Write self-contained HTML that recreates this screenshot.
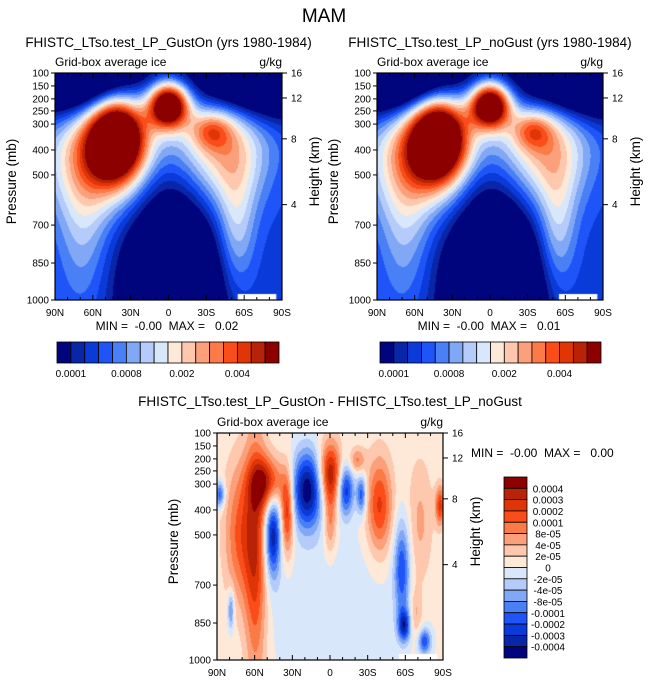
<!DOCTYPE html>
<html><head><meta charset="utf-8">
<style>
body{margin:0;background:#fff;font-family:"Liberation Sans",sans-serif;}
#wrap{position:relative;width:648px;height:685px;overflow:hidden;}
canvas{position:absolute;}
svg{position:absolute;left:0;top:0;}
text{font-family:"Liberation Sans",sans-serif;fill:#000;white-space:pre;}
</style></head>
<body>
<div id="wrap">
<canvas id="c1" width="227" height="227" style="left:55px;top:73px"></canvas>
<canvas id="c2" width="226" height="227" style="left:377px;top:73px"></canvas>
<canvas id="c3" width="226" height="227" style="left:217px;top:433px"></canvas>
<svg id="s" width="648" height="685"></svg>
</div>
<script>
const colors=['#00057e','#0a26a8','#0a3ad8','#1f55f8','#4a80f5','#80a8f5','#b5cbfa','#d8e8fa','#fee8d8','#fdc8ae','#fba07a','#fa7a48','#fa4d1a','#e03507','#b82206','#8c0000'];
const topLabels=['0.0001','0.0008','0.002','0.004'];
const topLabelIdx=[1,5,9,13];
const diffLabels=['0.0004','0.0003','0.0002','0.0001','8e-05','4e-05','2e-05','0','-2e-05','-4e-05','-8e-05','-0.0001','-0.0002','-0.0003','-0.0004'];
const presTicks=['100','150','200','250','300','400','500','700','850','1000'];
const presVals=[100,150,200,250,300,400,500,700,850,1000];
const heightTicks=['16','12','8','4'];
const heightVals=[16,12,8,4];
const latTicks=['90N','60N','30N','0','30S','60S','90S'];
const latVals=[90,60,30,0,-30,-60,-90];
// gaussian blobs for mean field (u: 0=90N..1=90S, v: 0=top..1=bottom)
const meanBase=2.5;
const meanU=[.27,.5,.69,.17,.75,.12,.8,.5,.08,.92,.52];
const meanV=[.29,.14,.25,.38,.36,.7,.7,.28,0,0,1.0];
const meanSU=[.085,.062,.065,.15,.13,.08,.06,.3,.2,.2,.14];
const meanSV=[.13,.07,.06,.18,.18,.25,.2,.12,.12,.12,.3];
const meanAmp=[18,18,5,7,6.5,3,4,2,-12,-12,-12];
// gaussian blobs for difference field
const diffBase=8.3;
const diffU=[.5,.1,.17,.245,.22,.31,.4,.01,.06,.5,.5,.57,.64,.62,.72,.82,.83,.92,.9,.88,.99];
const diffV=[.75,.45,.55,.45,.22,.35,.25,.27,.78,.18,.4,.25,.27,.12,.32,.6,.85,.92,.4,.8,.32];
const diffSU=[.25,.05,.035,.025,.05,.02,.05,.015,.01,.035,.02,.025,.015,.025,.04,.025,.02,.02,.04,.02,.015];
const diffSV=[.25,.22,.4,.13,.08,.13,.12,.04,.06,.1,.1,.08,.06,.04,.15,.15,.05,.04,.2,.08,.06];
const diffAmp=[-1,4,5,-7,6,6,-8,-5,-4,7,3,-6,-5,3,5,-5,-6,-5,2,2,5];

function field(u,v,base,U,V,SU,SV,A){let s=base;for(let i=0;i<U.length;i++){const du=(u-U[i])/SU[i],dv=(v-V[i])/SV[i];s+=A[i]*Math.exp(-.5*(du*du+dv*dv));}return s;}
function hex(c){return [parseInt(c.slice(1,3),16),parseInt(c.slice(3,5),16),parseInt(c.slice(5,7),16)];}
const rgb=colors.map(hex);
function paint(id,base,U,V,SU,SV,A,white){
 const cv=document.getElementById(id),ctx=cv.getContext('2d'),W=cv.width,H=cv.height;
 const img=ctx.createImageData(W,H);
 for(let y=0;y<H;y++)for(let x=0;x<W;x++){
  let f=Math.floor(field(x/(W-1),y/(H-1),base,U,V,SU,SV,A));f=Math.max(0,Math.min(15,f));
  const c=rgb[f],k=(y*W+x)*4;img.data[k]=c[0];img.data[k+1]=c[1];img.data[k+2]=c[2];img.data[k+3]=255;}
 ctx.putImageData(img,0,0);
 if(white){ctx.fillStyle='#fff';ctx.fillRect(W*.805,H-6,W*.17,6);}
}
paint('c1',meanBase,meanU,meanV,meanSU,meanSV,meanAmp,true);
paint('c2',meanBase,meanU,meanV,meanSU,meanSV,meanAmp,true);
paint('c3',diffBase,diffU,diffV,diffSU,diffSV,diffAmp,true);

const S=document.getElementById('s'),NS='http://www.w3.org/2000/svg';
function el(t,a,txt){const e=document.createElementNS(NS,t);for(const k in a)e.setAttribute(k,a[k]);if(txt!==undefined)e.textContent=txt;S.appendChild(e);return e;}
function pFrac(p){const t=[100,150,200,250,300,400,500,700,850,1000],f=[0,.057,.114,.167,.225,.339,.449,.67,.837,1];for(let i=0;i<t.length-1;i++)if(p<=t[i+1])return f[i]+(f[i+1]-f[i])*(p-t[i])/(t[i+1]-t[i]);return 1;}
function hFrac(h){const t=[16,12,8,4],f=[0,.11,.29,.58];for(let i=0;i<t.length-1;i++)if(h>=t[i+1])return f[i]+(f[i+1]-f[i])*(t[i]-h)/(t[i]-t[i+1]);return .58;}
function panel(x0,y0,w,h,title,ty,prefix){
 let r=el('rect',{x:x0,y:y0,width:w,height:h,fill:'none',stroke:'#000','stroke-width':1.2});
 
 let t=el('text',{x:x0+w/2,y:ty,'font-size':13.5,'text-anchor':'middle'},title);
 
 t=el('text',{x:x0,y:y0-7,'font-size':12},'Grid-box average ice');
 
 t=el('text',{x:x0+w,y:y0-7,'font-size':12,'text-anchor':'end'},'g/kg');
 
 presVals.forEach((p,i)=>{const y=y0+pFrac(p)*h;el('line',{x1:x0-4,x2:x0,y1:y,y2:y,stroke:'#000'});
  const l=el('text',{x:x0-6,y:y+3.5,'font-size':10,'text-anchor':'end'},presTicks[i]);
  });
 heightVals.forEach((hv,i)=>{const y=y0+hFrac(hv)*h;el('line',{x1:x0+w,x2:x0+w+5,y1:y,y2:y,stroke:'#000'});
  const l=el('text',{x:x0+w+9,y:y+3.5,'font-size':10},heightTicks[i]);
  });
 for(let lat=90;lat>=-90;lat-=10){const x=x0+(90-lat)/180*w,big=lat%30==0;
  el('line',{x1:x,x2:x,y1:y0,y2:y0+(big?5:3),stroke:'#000'});el('line',{x1:x,x2:x,y1:y0+h,y2:y0+h-(big?5:3),stroke:'#000'});}
 latVals.forEach((lv,i)=>{const x=x0+(90-lv)/180*w;const l=el('text',{x:x,y:y0+h+16,'font-size':10,'text-anchor':'middle'},latTicks[i]);
  });
 t=el('text',{x:0,y:0,'font-size':13.5,'text-anchor':'middle',transform:`translate(${x0-39},${y0+h/2-5}) rotate(-90)`},'Pressure (mb)');
 
 t=el('text',{x:0,y:0,'font-size':13.5,'text-anchor':'middle',transform:`translate(${x0+w+37},${y0+h/2-15}) rotate(-90)`},'Height (km)');
 
}
let m=el('text',{x:324,y:22,'font-size':19,'text-anchor':'middle'},'MAM');

panel(55,73,227,227,'FHISTC_LTso.test_LP_GustOn (yrs 1980-1984)',47,'left-panel');
panel(377,73,226,227,'FHISTC_LTso.test_LP_noGust (yrs 1980-1984)',47,'right-panel');
panel(217,433,226,227,'FHISTC_LTso.test_LP_GustOn - FHISTC_LTso.test_LP_noGust',406,'diff-panel');
const NB='\u00a0';
[[167,'0.02'],[489,'0.01']].forEach(([x,v])=>{const t=el('text',{x:x,y:330,'font-size':12,'text-anchor':'middle'},'MIN ='+NB+NB+'-0.00'+NB+NB+'MAX ='+NB+NB+NB+v);
 });
let mm=el('text',{x:471,y:457,'font-size':12},'MIN ='+NB+NB+'-0.00'+NB+NB+'MAX ='+NB+NB+NB+'0.00');

function hbar(x0,w,prefix){const bw=w/16;colors.forEach((c,i)=>{const r=el('rect',{x:x0+i*bw,y:342,width:bw,height:21,fill:c,stroke:'#000','stroke-width':.8});
 });
 topLabels.forEach((lb,i)=>{const t=el('text',{x:x0+topLabelIdx[i]*bw,y:377,'font-size':10,'text-anchor':'middle'},lb);
 });}
hbar(57,222,'left');hbar(380,221,'right');
const bh=181/16;
colors.slice().reverse().forEach((c,i)=>{const r=el('rect',{x:504,y:477+i*bh,width:23,height:bh,fill:c,stroke:'#000','stroke-width':.8});
 });
diffLabels.forEach((lb,i)=>{const t=el('text',{x:548,y:477+(i+1)*bh+4,'font-size':10,'text-anchor':'middle'},lb);
 });
</script>
</body></html>
